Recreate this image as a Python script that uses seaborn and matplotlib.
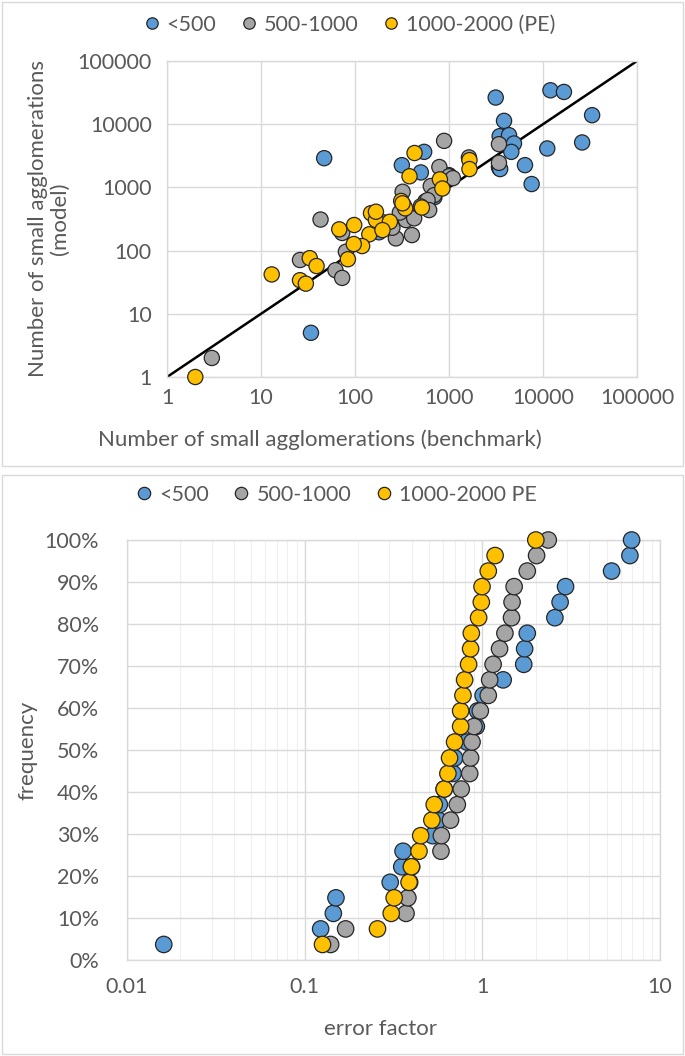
import matplotlib
matplotlib.use("Agg")
import pandas as pd
import matplotlib.pyplot as plt
import seaborn as sns
from matplotlib.patches import Rectangle
from matplotlib.ticker import FixedLocator, FuncFormatter, LogLocator, NullFormatter

# --- data ------------------------------------------------------------------
GROUPS_TOP = ["<500", "500-1000", "1000-2000 (PE)"]
GROUPS_BOTTOM = ["<500", "500-1000", "1000-2000 PE"]
COLORS = ["#5B9BD5", "#A5A5A5", "#FFC000"]

# top panel: benchmark (x) vs model (y)
bench_lt500 = [47, 34, 3140, 12000, 16700, 33300, 3850, 3460, 4350, 4910, 4600, 11100, 26100,
               3400, 3450, 3500, 6430, 7570, 544, 315, 502, 1000, 180, 330, 560, 220, 700]
model_lt500 = [2900, 5, 26400, 34400, 32400, 13900, 11300, 6460, 6700, 4950, 3650, 4130, 5140,
               2110, 2000, 1950, 2250, 1130, 3650, 2250, 1725, 1560, 195, 520, 600, 250, 700]

bench_500_1000 = [3, 26, 62, 73, 43, 73, 80, 887, 790, 1000, 1630, 640, 695, 592, 321, 348,
                  426, 615, 403, 272, 3400, 3400, 250, 300, 500, 1100, 200]
model_500_1000 = [2, 71, 49, 37, 310, 190, 96, 5450, 2100, 1500, 2980, 1050, 755, 630, 853, 304,
                  324, 438, 176, 156, 4830, 2450, 230, 400, 500, 1400, 280]

bench_1000_2000 = [2, 13, 26, 30, 33, 39, 68, 98, 148, 167, 167, 142, 119, 97, 84, 430, 380,
                   800, 850, 1650, 1650, 515, 310, 342, 235, 196, 320]
model_1000_2000 = [1, 42, 34, 30, 76, 57, 217, 254, 390, 304, 412, 181, 118, 127, 73, 3500, 1500,
                   1340, 960, 2700, 1950, 480, 610, 466, 286, 211, 560]

# bottom panel: cumulative frequency (%) vs sorted error factor
freq_pct = [3.7, 7.4, 11.1, 14.8, 18.5, 22.2, 25.9, 29.6, 33.3, 37.0, 40.7, 44.4, 48.1, 51.9,
            55.6, 59.3, 63.0, 66.7, 70.4, 74.1, 77.8, 81.5, 85.2, 88.9, 92.6, 96.3, 100.0]
err_lt500 = [0.0161, 0.123, 0.145, 0.150, 0.303, 0.352, 0.358, 0.525, 0.565, 0.573, 0.61, 0.684,
             0.698, 0.82, 0.925, 0.94, 1.01, 1.31, 1.71, 1.73, 1.79, 2.56, 2.74, 2.94, 5.34, 6.77, 6.92]
err_500_1000 = [0.140, 0.170, 0.372, 0.381, 0.39, 0.40, 0.585, 0.588, 0.662, 0.723, 0.761, 0.849,
                0.859, 0.875, 0.898, 0.974, 1.08, 1.10, 1.15, 1.25, 1.34, 1.46, 1.47, 1.51, 1.79,
                2.02, 2.35]
err_1000_2000 = [0.126, 0.257, 0.307, 0.319, 0.387, 0.399, 0.44, 0.45, 0.52, 0.536, 0.61, 0.64,
                 0.654, 0.698, 0.755, 0.755, 0.778, 0.795, 0.837, 0.859, 0.867, 0.953, 0.987,
                 0.996, 1.08, 1.18, 2.0]

TEXT = "#595959"
GRID = "#D9D9D9"
EDGE = "#262626"


def make_top_df():
    frames = []
    for g, xs, ys in zip(GROUPS_TOP, [bench_lt500, bench_500_1000, bench_1000_2000],
                         [model_lt500, model_500_1000, model_1000_2000]):
        frames.append(pd.DataFrame({"benchmark": xs, "model": ys, "group": g}))
    return pd.concat(frames, ignore_index=True)


def make_bottom_df():
    frames = []
    for g, xs in zip(GROUPS_BOTTOM, [err_lt500, err_500_1000, err_1000_2000]):
        frames.append(pd.DataFrame({"error": xs, "freq": [f / 100 for f in freq_pct], "group": g}))
    return pd.concat(frames, ignore_index=True)


def style_axes(ax, ypad, xpad):
    for sp in ax.spines.values():
        sp.set_color(GRID)
        sp.set_linewidth(1.0)
    ax.tick_params(which="both", length=0, colors=TEXT, labelsize=15.5)
    ax.tick_params(axis="y", pad=ypad)
    ax.tick_params(axis="x", pad=xpad)


def put_legend(ax, x, y):
    h, l = ax.get_legend_handles_labels()
    ax.get_legend().remove()
    fig.legend(h, l, loc="center", bbox_to_anchor=(x / W, 1 - y / H), ncol=3, frameon=False,
               fontsize=15.5, labelcolor=TEXT, handlelength=1.0, handletextpad=0.2,
               columnspacing=1.0, markerscale=0.75)


sns.set_theme(style="white")
plt.rcParams["font.family"] = ["Lato", "DejaVu Sans"]

W, H = 685, 1056
fig = plt.figure(figsize=(W / 100, H / 100), dpi=100)

# panel frames
fig.patches.append(Rectangle((2 / W, 1 - 466 / H), 681 / W, 464 / H, transform=fig.transFigure,
                             fill=False, edgecolor=GRID, linewidth=1.0))
fig.patches.append(Rectangle((2 / W, 1 - 1054 / H), 681 / W, 579 / H, transform=fig.transFigure,
                             fill=False, edgecolor=GRID, linewidth=1.0))

# ---- top panel ----
ax1 = fig.add_axes([167 / W, 1 - 377 / H, 470 / W, 316 / H])
top = make_top_df()
ax1.plot([1, 100000], [1, 100000], color="black", linewidth=1.8, zorder=1)
sns.scatterplot(data=top, x="benchmark", y="model", hue="group", hue_order=GROUPS_TOP,
                palette=COLORS, s=120, edgecolor=EDGE, linewidth=0.9, ax=ax1, zorder=3,
                clip_on=False)
ax1.set_xscale("log")
ax1.set_yscale("log")
ax1.set_xlim(1, 100000)
ax1.set_ylim(1, 100000)
decades = [1, 10, 100, 1000, 10000, 100000]
plain = FuncFormatter(lambda v, p: f"{v:g}" if v < 1e5 else "100000")
for axis in (ax1.xaxis, ax1.yaxis):
    axis.set_major_locator(FixedLocator(decades))
    axis.set_major_formatter(plain)
    axis.set_minor_locator(FixedLocator([]))
ax1.grid(True, which="major", color=GRID, linewidth=1.0)
ax1.set_axisbelow(True)
style_axes(ax1, ypad=11, xpad=8)
ax1.set_xlabel("Number of small agglomerations (benchmark)", fontsize=16, color=TEXT)
ax1.xaxis.set_label_coords((320 - 167) / 470, -(429 - 377) / 316)
ax1.set_ylabel("Number of small agglomerations\n(model)", fontsize=16, color=TEXT,
               linespacing=1.1)
ax1.yaxis.set_label_coords(-(167 - 70) / 470, 0.5)
put_legend(ax1, 348, 25)

# ---- bottom panel ----
ax2 = fig.add_axes([127 / W, 1 - 960 / H, 533 / W, 420 / H])
bottom = make_bottom_df()
sns.scatterplot(data=bottom, x="error", y="freq", hue="group", hue_order=GROUPS_BOTTOM,
                palette=COLORS, s=140, edgecolor=EDGE, linewidth=0.9, ax=ax2, zorder=3,
                clip_on=False)
ax2.set_xscale("log")
ax2.set_xlim(0.01, 10)
ax2.set_ylim(0, 1)
ax2.xaxis.set_major_locator(FixedLocator([0.01, 0.1, 1, 10]))
ax2.xaxis.set_major_formatter(FuncFormatter(lambda v, p: f"{v:g}"))
ax2.xaxis.set_minor_locator(LogLocator(base=10, subs=range(2, 10)))
ax2.xaxis.set_minor_formatter(NullFormatter())
ax2.yaxis.set_major_locator(FixedLocator([i / 10 for i in range(11)]))
ax2.yaxis.set_major_formatter(FuncFormatter(lambda v, p: f"{round(v * 100)}%"))
ax2.grid(True, which="major", color=GRID, linewidth=1.0)
ax2.grid(True, which="minor", axis="x", color="#EFEFEF", linewidth=0.8)
ax2.set_axisbelow(True)
style_axes(ax2, ypad=20, xpad=12)
ax2.set_xlabel("error factor", fontsize=16, color=TEXT)
ax2.xaxis.set_label_coords((380 - 127) / 533, -(1019 - 960) / 420)
ax2.set_ylabel("frequency", fontsize=16, color=TEXT)
ax2.yaxis.set_label_coords(-(127 - 38) / 533, 0.5)
put_legend(ax2, 335, 495)

fig.savefig("out.png", dpi=100)
